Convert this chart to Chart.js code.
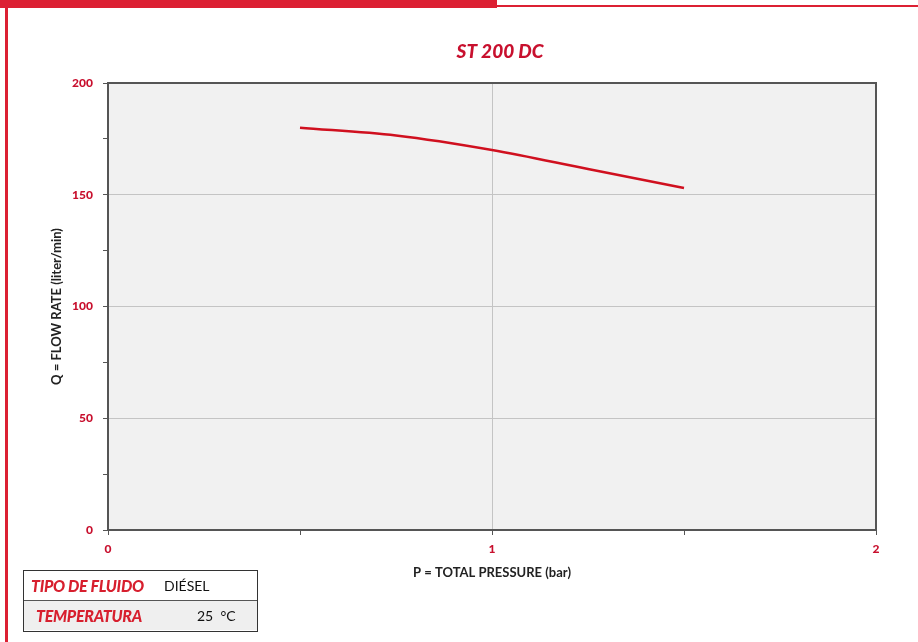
<!DOCTYPE html>
<html>
<head>
<meta charset="utf-8">
<script src="https://cdn.jsdelivr.net/npm/chart.js@4/dist/chart.umd.min.js"></script>
<style>
  html, body { margin: 0; padding: 0; background: #fff; }
  body { width: 918px; height: 642px; position: relative; overflow: hidden; font-family: Lato, sans-serif; }
  #wrap { position: absolute; left: 0; top: 0; width: 918px; height: 642px; }
  .bar-top { position: absolute; left: 0; top: 0; width: 497px; height: 8px; background: #dc2033; }
  .bar-thin { position: absolute; left: 497px; top: 5px; width: 421px; height: 2px; background: #dc2033; }
  .bar-left { position: absolute; left: 5px; top: 0; width: 3px; height: 642px; background: #dc2033; }
  #info { position: absolute; left: 23px; top: 570px; width: 235px; height: 62px; border: 1.5px solid #333; box-sizing: border-box; }
  #info .row { position: relative; height: 29px; box-sizing: border-box; }
  #info .row + .row { border-top: 1.5px solid #555; background: #efefef; height: 30px; }
  #info .k { position: absolute; top: 5px; color: #d71f2e; font-weight: 900; font-style: italic; font-size: 16px; letter-spacing: -0.3px; }
  #info .v { position: absolute; top: 6px; color: #111; font-size: 14px; }
</style>
</head>
<body>
<div class="bar-top"></div>
<div class="bar-thin"></div>
<div class="bar-left"></div>
<div id="wrap"><canvas id="chart" width="918" height="642"></canvas></div>
<div id="info">
  <div class="row"><span class="k" style="left:7px">TIPO DE FLUIDO</span><span class="v" style="left:140px">DIÉSEL</span></div>
  <div class="row"><span class="k" style="left:12px">TEMPERATURA</span><span class="v" style="left:173px">25 &nbsp;°C</span></div>
</div>
<script>
const pressure = [0.5, 0.75, 1.0, 1.25, 1.5];
const flowRate = [180, 176.5, 170, 161.5, 153];
const xTickLabels = [0, 1, 2];
const yTickLabels = [0, 50, 100, 150, 200];
const chartTitle = 'ST 200 DC';

const RED = '#c8102e';

// fondo gris, marco del área de trazado y título
const plotFrame = {
  id: 'plotFrame',
  beforeDraw(chart) {
    const { ctx, chartArea: a } = chart;
    ctx.save();
    ctx.fillStyle = '#f1f1f1';
    ctx.fillRect(a.left, a.top, a.right - a.left, a.bottom - a.top);
    ctx.restore();
  },
  afterDatasetsDraw(chart) {
    const { ctx, chartArea: a } = chart;
    ctx.save();
    ctx.strokeStyle = '#555';
    ctx.lineWidth = 2;
    ctx.strokeRect(a.left, a.top, a.right - a.left, a.bottom - a.top);
    ctx.fillStyle = RED;
    ctx.font = 'italic 900 19px Lato';
    ctx.textAlign = 'center';
    ctx.textBaseline = 'middle';
    ctx.fillText(chartTitle, 500, 52);
    ctx.restore();
  }
};

new Chart(document.getElementById('chart'), {
  type: 'line',
  data: {
    datasets: [{
      label: chartTitle,
      data: pressure.map((p, i) => ({ x: p, y: flowRate[i] })),
      borderColor: '#d0101f',
      borderWidth: 2.5,
      pointRadius: 0,
      cubicInterpolationMode: 'monotone',
      fill: false
    }]
  },
  options: {
    responsive: false,
    animation: false,
    layout: { padding: { top: 83, right: 42, left: 0, bottom: 0 } },
    plugins: {
      legend: { display: false },
      tooltip: { enabled: false },
      title: { display: false }
    },
    scales: {
      x: {
        type: 'linear',
        min: 0, max: 2,
        afterBuildTicks: s => { s.ticks = [0, 0.5, 1, 1.5, 2].map(v => ({ value: v })); },
        afterFit: s => { s.height = 112; },
        border: { color: '#555', width: 2 },
        grid: {
          color: c => c.tick && c.tick.value === 1 ? '#c4c4c4' : 'rgba(0,0,0,0)',
          tickColor: '#555',
          tickLength: 5,
          lineWidth: 1
        },
        ticks: {
          color: RED,
          padding: 7,
          maxRotation: 0,
          autoSkip: false,
          font: { family: 'Lato', size: 12, weight: '900' },
          callback: v => xTickLabels.includes(v) ? String(v) : ''
        },
        title: {
          display: true,
          text: 'P = TOTAL PRESSURE (bar)',
          color: '#222',
          font: { family: 'Lato', size: 13, weight: '700' },
          padding: { bottom: 61 }
        }
      },
      y: {
        min: 0, max: 200,
        afterBuildTicks: s => { s.ticks = [0, 25, 50, 75, 100, 125, 150, 175, 200].map(v => ({ value: v })); },
        afterFit: s => { s.width = 108; },
        border: { color: '#555', width: 2 },
        grid: {
          color: c => c.tick && [50, 100, 150].includes(c.tick.value) ? '#c4c4c4' : 'rgba(0,0,0,0)',
          tickColor: '#555',
          tickLength: 5,
          lineWidth: 1
        },
        ticks: {
          color: RED,
          padding: 10,
          autoSkip: false,
          font: { family: 'Lato', size: 12, weight: '900' },
          callback: v => yTickLabels.includes(v) ? String(v) : ''
        },
        title: {
          display: true,
          text: 'Q = FLOW RATE (liter/min)',
          color: '#222',
          font: { family: 'Lato', size: 13, weight: '700' },
          padding: { top: 49 }
        }
      }
    }
  },
  plugins: [plotFrame]
});
</script>
</body>
</html>
